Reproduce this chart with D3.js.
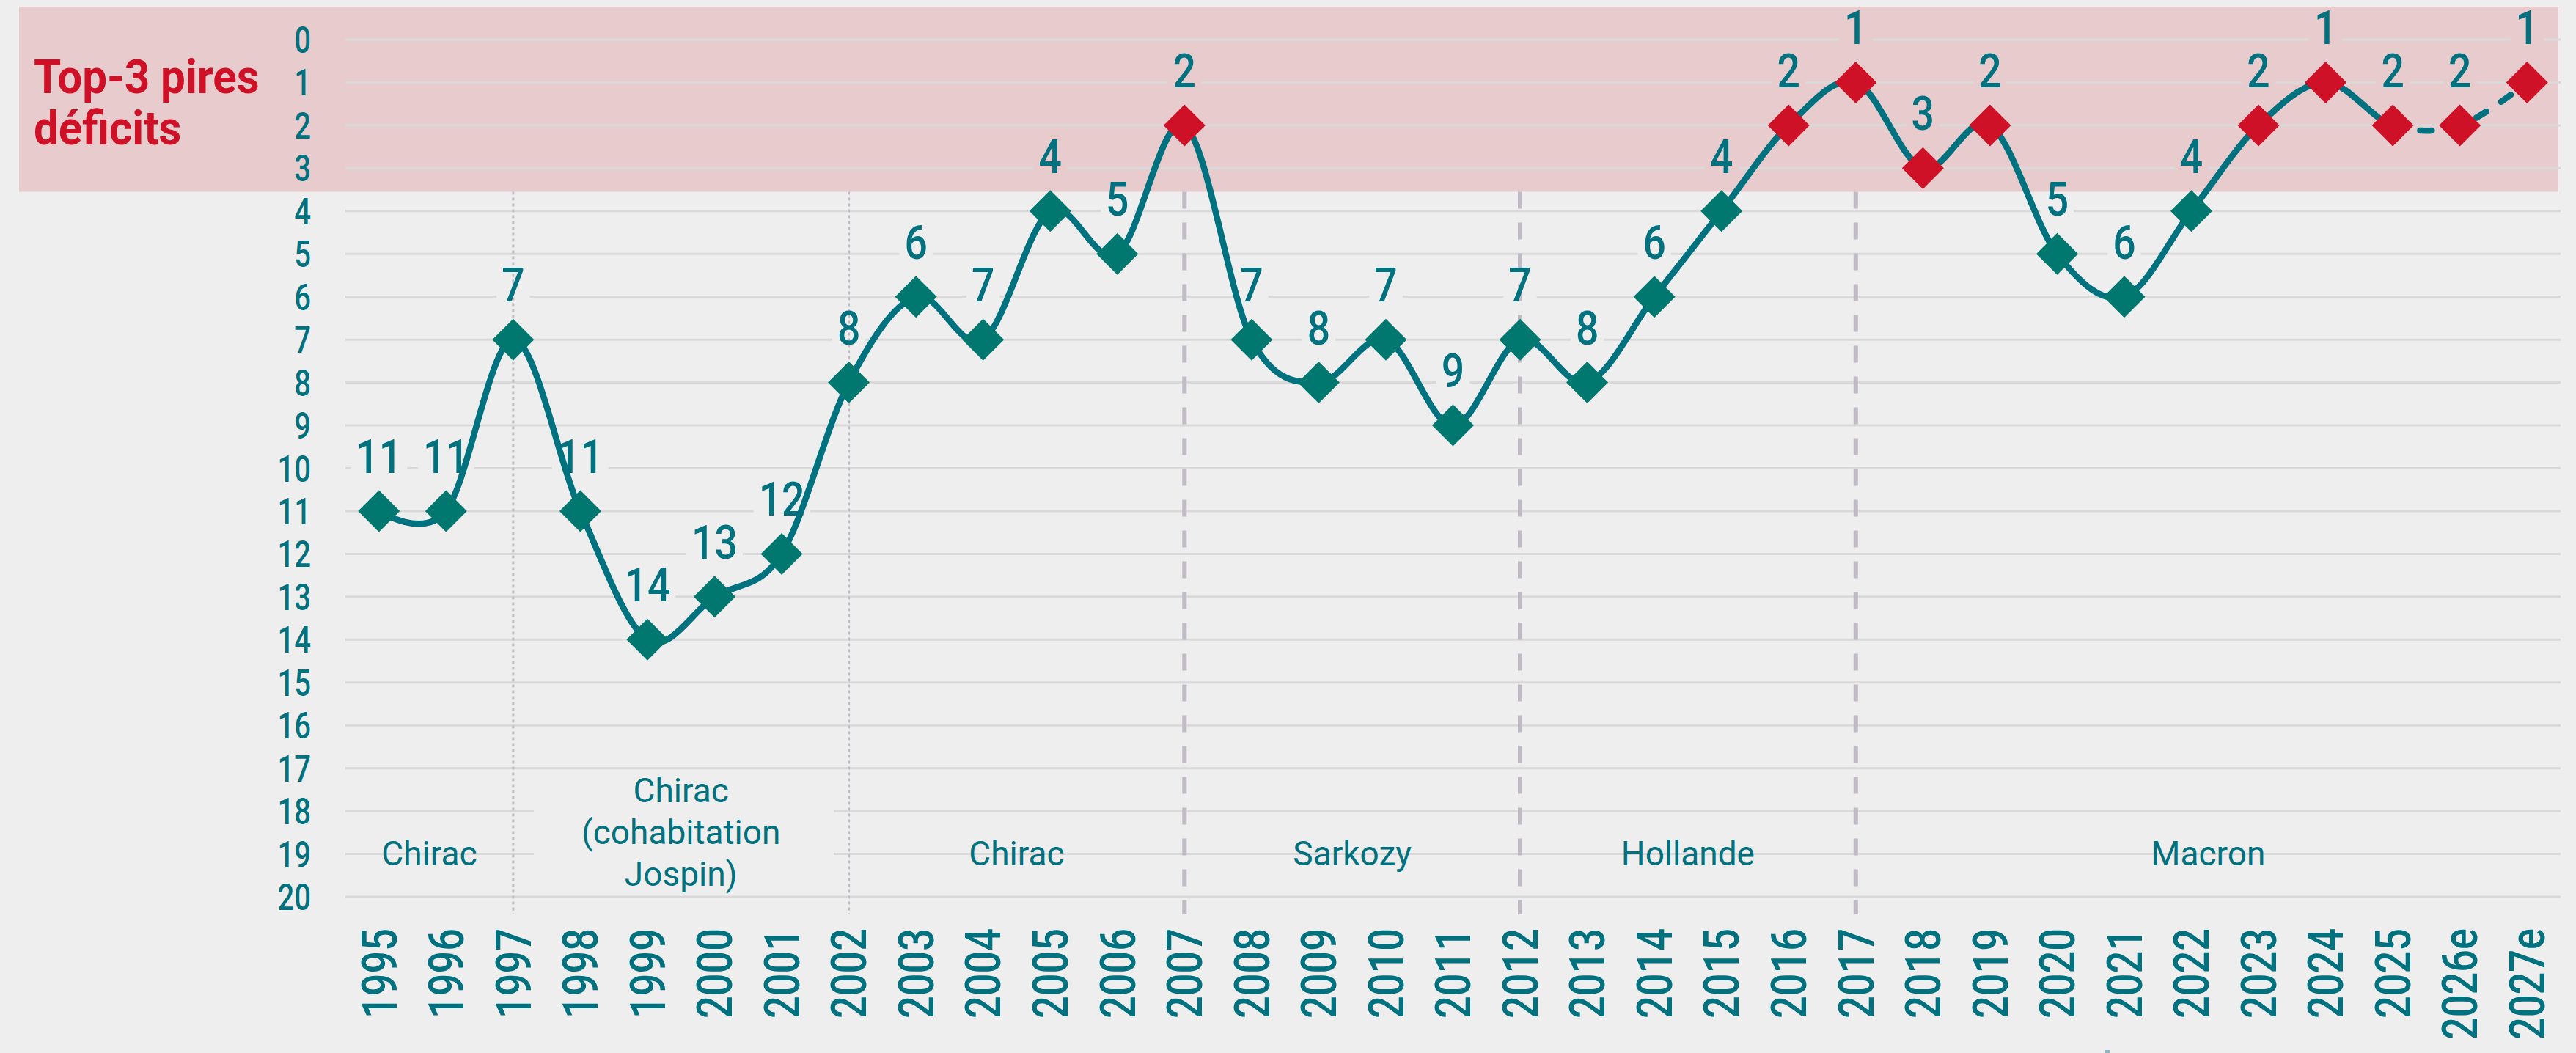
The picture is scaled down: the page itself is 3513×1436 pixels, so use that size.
<!DOCTYPE html>
<html>
<head>
<meta charset="utf-8">
<script src="https://cdn.jsdelivr.net/npm/d3@7"></script>
<style>
  body { margin: 0; background: #eeeeee; }
  text { font-family: Roboto, "Noto Sans", sans-serif; }
</style>
</head>
<body>
<svg id="chart"></svg>
<script>
// rang de la France parmi les pires déficits (1 = pire)
const years = ["1995", "1996", "1997", "1998", "1999", "2000", "2001", "2002", "2003", "2004",
  "2005", "2006", "2007", "2008", "2009", "2010", "2011", "2012", "2013", "2014", "2015",
  "2016", "2017", "2018", "2019", "2020", "2021", "2022", "2023", "2024", "2025", "2026e", "2027e"]
const ranks = [11, 11, 7, 11, 14, 13, 12, 8, 6, 7, 4, 5, 2, 7, 8, 7, 9, 7, 8, 6, 4, 2, 1, 3, 2,
  5, 6, 4, 2, 1, 2, 2, 1]
const yTicks = d3.range(0, 21)
const separators = ["1997", "2002", "2007", "2012", "2017"]
const dottedSeparators = ["1997", "2002"]
const presidents = [["Chirac"], ["Chirac", "(cohabitation", "Jospin)"], ["Chirac"], ["Sarkozy"], ["Hollande"], ["Macron"]]
const dashedFrom = "2025"
const topN = 3
const bandTitle = ["Top-3 pires", "déficits"]

const W = 3513, H = 1436
const teal = "#00717f", tealMark = "#00786f", red = "#ce1127"
const bandColor = "#e8cbcd", bg = "#eeeeee", gridColor = "#d9d9d9"

const svg = d3.select("#chart").attr("width", W).attr("height", H)
svg.append("rect").attr("width", W).attr("height", H).attr("fill", bg)

const x = d3.scalePoint().domain(years).range([471, 3492]).padding(0.5)
const y = d3.scaleLinear().domain([0, 20]).range([54, 1223])
const gridLeft = 471, gridRight = 3492
const bandBottom = y(topN + 0.55)

const defs = svg.append("defs")

// bande rose du top-3
svg.append("rect")
    .attr("x", 26).attr("y", 9)
    .attr("width", 3489 - 26).attr("height", bandBottom - 9)
    .attr("fill", bandColor)

svg.append("g")
    .selectAll("text")
    .data(bandTitle)
    .join("text")
    .attr("transform", (d, i) => `translate(46, ${127 + i * 70}) scale(0.94, 1)`)
    .attr("fill", red)
    .attr("font-size", 64)
    .attr("font-weight", "bold")
    .text(d => d)

// grid goes in its own group so labels can punch holes in it
const grid = svg.append("g").attr("mask", "url(#gridMask)")
grid.selectAll("line")
    .data(yTicks)
    .join("line")
    .attr("x1", gridLeft).attr("x2", gridRight)
    .attr("y1", d => y(d)).attr("y2", d => y(d))
    .attr("stroke", gridColor)
    .attr("stroke-width", 3)

// axe y
svg.append("g")
    .selectAll("text")
    .data(yTicks)
    .join("text")
    .attr("transform", d => `translate(424, ${y(d)}) scale(0.8, 1)`)
    .attr("dy", "0.36em")
    .attr("text-anchor", "end")
    .attr("fill", teal)
    .attr("font-size", 50)
    .attr("font-weight", 500)
    .text(d => d)

// axe x, années verticales
svg.append("g")
    .selectAll("text")
    .data(years)
    .join("text")
    .attr("transform", d => `translate(${x(d)}, 1266) rotate(-90) scale(0.82, 1)`)
    .attr("dy", "0.36em")
    .attr("text-anchor", "end")
    .attr("fill", teal)
    .attr("font-size", 66)
    .attr("font-weight", 500)
    .text(d => d)

// séparateurs de mandats
svg.append("g")
    .selectAll("line")
    .data(separators)
    .join("line")
    .attr("x1", d => x(d)).attr("x2", d => x(d))
    .attr("y1", bandBottom).attr("y2", 1247)
    .attr("stroke", "#bfbac4")
    .attr("stroke-width", d => dottedSeparators.includes(d) ? 3 : 6)
    .attr("stroke-dasharray", d => dottedSeparators.includes(d) ? "4,4" : "23,19")

// présidents
const bounds = [gridLeft, ...separators.map(d => x(d)), gridRight]
const presG = svg.append("g")
presidents.forEach((lines, i) => {
    const cx = (bounds[i] + bounds[i + 1]) / 2
    const base = lines.length === 1 ? 1180 : 1094
    const t = presG.append("text")
        .attr("text-anchor", "middle")
        .attr("fill", teal)
        .attr("font-size", 46)
    lines.forEach((l, j) => {
        t.append("tspan").attr("x", cx).attr("y", base + j * 57).text(l)
    })
})

// étiquettes de valeurs
const points = years.map((d, i) => ({year: d, rank: ranks[i]}))
const labels = svg.append("g")
    .selectAll("text")
    .data(points)
    .join("text")
    .attr("transform", d => `translate(${x(d.year)}, ${y(d.rank) - 52}) scale(0.85, 1)`)
    .attr("text-anchor", "middle")
    .attr("fill", teal)
    .attr("font-size", 65)
    .attr("font-weight", 500)
    .text(d => d.rank)

// mask: white everywhere, black where labels sit
const mask = defs.append("mask").attr("id", "gridMask")
    .attr("maskUnits", "userSpaceOnUse")
    .attr("x", 0).attr("y", 0).attr("width", W).attr("height", H)
mask.append("rect").attr("width", W).attr("height", H).attr("fill", "white")
labels.each(function (d) {
    const b = this.getBBox()
    const pad = 7
    mask.append("rect")
        .attr("x", x(d.year) + b.x * 0.85 - pad)
        .attr("y", y(d.rank) - 52 + b.y + 6)
        .attr("width", b.width * 0.85 + 2 * pad)
        .attr("height", b.height - 8)
        .attr("fill", "black")
})
// le label cohabitation a un fond
mask.append("rect")
    .attr("x", 728).attr("y", 1058)
    .attr("width", 1137 - 728).attr("height", 155)
    .attr("fill", "black")

// courbe lissée
const line = d3.line()
    .x(d => x(d.year))
    .y(d => y(d.rank))
    .curve(d3.curveCardinal.tension(0))

const xCut = x(dashedFrom)
defs.append("clipPath").attr("id", "solidClip")
    .append("rect").attr("x", 0).attr("y", 0).attr("width", xCut).attr("height", H)
defs.append("clipPath").attr("id", "dashClip")
    .append("rect").attr("x", xCut).attr("y", 0).attr("width", W - xCut).attr("height", H)

svg.append("path")
    .datum(points)
    .attr("d", line)
    .attr("clip-path", "url(#solidClip)")
    .attr("fill", "none")
    .attr("stroke", teal)
    .attr("stroke-width", 8.5)

const dashed = svg.append("path")
    .datum(points)
    .attr("d", line)
    .attr("clip-path", "url(#dashClip)")
    .attr("fill", "none")
    .attr("stroke", teal)
    .attr("stroke-width", 8.5)
    .attr("stroke-linecap", "round")
    .attr("stroke-dasharray", "16,24")

// find where the dashed part starts on the path, start a dash just after the marker
const node = dashed.node()
let lo = 0, hi = node.getTotalLength()
while (hi - lo > 0.5) {
    const mid = (lo + hi) / 2
    if (node.getPointAtLength(mid).x < xCut) lo = mid
    else hi = mid
}
dashed.attr("stroke-dashoffset", -(lo + 36))

// losanges
const s = 28.5
svg.append("g")
    .selectAll("path")
    .data(points)
    .join("path")
    .attr("transform", d => `translate(${x(d.year)}, ${y(d.rank)})`)
    .attr("d", `M0,${-s}L${s},0L0,${s}L${-s},0Z`)
    .attr("fill", d => d.rank <= topN ? red : tealMark)

// petite marque en bas
svg.append("rect")
    .attr("x", 2870).attr("y", 1432).attr("width", 8).attr("height", 4)
    .attr("fill", "#8fb3bd")
</script>
</body>
</html>
